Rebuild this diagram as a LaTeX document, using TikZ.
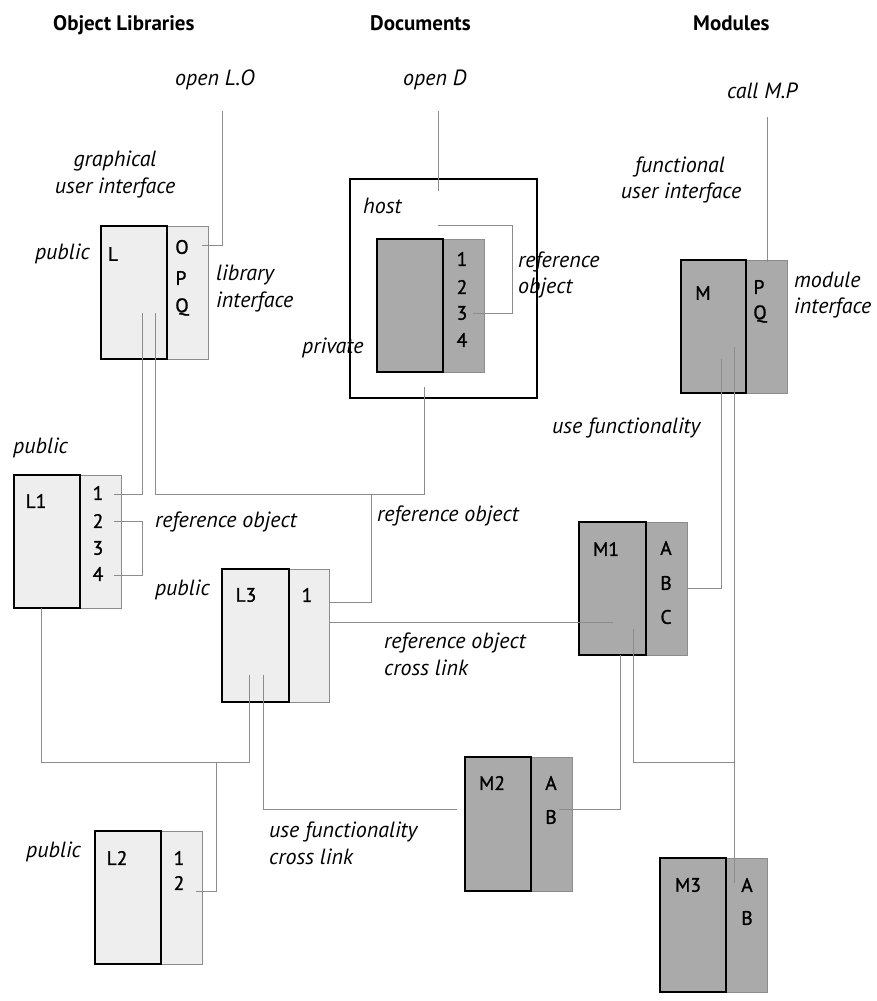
\documentclass[tikz,border=0pt]{standalone}
\usepackage{fontspec}
\setmainfont{PT Sans}
\newfontfamily\portfam{PT Sans}[FakeBold=1.2]
\definecolor{lfill}{HTML}{EEEEEE}
\definecolor{dfill}{HTML}{AAAAAA}
\definecolor{lgray}{HTML}{8C8C8C}
\newcommand\labfont{\fontsize{22}{26}\selectfont\itshape}
\newcommand\portfont{\portfam\fontsize{19.5}{23}\selectfont}
\newcommand\titlefont{\fontsize{21}{25}\selectfont\bfseries}
\begin{document}
\begin{tikzpicture}[x=1pt,y=-1pt,
  box/.style={inner sep=0pt, outer sep=0pt, anchor=north west},
  lpart/.style={box, draw=black, line width=1.4pt},
  rpart/.style={box, draw=lgray, line width=1pt},
  conn/.style={draw=lgray, line width=0.9pt},
  lab/.style={font=\labfont, anchor=base west, inner sep=0pt},
  labc/.style={font=\labfont, anchor=base, inner sep=0pt},
  labr/.style={font=\labfont, anchor=base east, inner sep=0pt},
  port/.style={font=\portfont, inner sep=0pt},
  ttl/.style={font=\titlefont, anchor=base west, inner sep=0pt}]
\useasboundingbox (0,0) rectangle (877,1001);

% titles
\node[ttl] (t1) at (53,30) {Object Libraries};
\node[ttl] (t2) at (370,30) {Documents};
\node[ttl] (t3) at (693,30) {Modules};

% ---------- Library L ----------
\node[rpart, fill=lfill, minimum width=41, minimum height=133] (Lr) at (167,226) {};
\node[lpart, fill=lfill, minimum width=66, minimum height=133] (Ll) at (101,226) {};
\node[port] (Lname) at (113,254) {L};
\node[port] (LO) at (182,247) {O};
\node[port] (LP) at (181,278) {P};
\node[port] (LQ) at (182,307) {Q};

% ---------- Library L1 ----------
\node[rpart, fill=lfill, minimum width=41, minimum height=133] (L1r) at (80,475) {};
\node[lpart, fill=lfill, minimum width=66, minimum height=133] (L1l) at (14,475) {};
\node[port] (L1name) at (36,501) {L1};
\node[port] (L1a) at (98,493) {1};
\node[port] (L1b) at (98,521) {2};
\node[port] (L1c) at (98,548) {3};
\node[port] (L1d) at (98,574) {4};

% ---------- Library L3 ----------
\node[rpart, fill=lfill, minimum width=40, minimum height=133] (L3r) at (289,569) {};
\node[lpart, fill=lfill, minimum width=67, minimum height=133] (L3l) at (222,569) {};
\node[port] (L3name) at (246,595) {L3};
\node[port] (L3a) at (307,595) {1};

% ---------- Library L2 ----------
\node[rpart, fill=lfill, minimum width=41, minimum height=133] (L2r) at (161,831) {};
\node[lpart, fill=lfill, minimum width=66, minimum height=133] (L2l) at (95,831) {};
\node[port] (L2name) at (117,858) {L2};
\node[port] (L2a) at (179,858) {1};
\node[port] (L2b) at (179,883) {2};

% ---------- Document ----------
\node[box, draw=black, line width=2pt, minimum width=187, minimum height=219] (Doc) at (350,179) {};
\node[rpart, fill=dfill, minimum width=41, minimum height=133] (Dr) at (443,239) {};
\node[lpart, fill=dfill, minimum width=66, minimum height=133] (Dl) at (377,239) {};
\node[port] (Da) at (462,259) {1};
\node[port] (Db) at (462,287) {2};
\node[port] (Dc) at (462,313) {3};
\node[port] (Dd) at (462,340) {4};

% ---------- Module M ----------
\node[rpart, fill=dfill, minimum width=41, minimum height=133] (Mr) at (746,260) {};
\node[lpart, fill=dfill, minimum width=65, minimum height=133] (Ml) at (681,260) {};
\node[port] (Mname) at (703,293) {M};
\node[port] (MP) at (759,287) {P};
\node[port] (MQ) at (760,314) {Q};

% ---------- Module M1 ----------
\node[rpart, fill=dfill, minimum width=41, minimum height=133] (M1r) at (646,522) {};
\node[lpart, fill=dfill, minimum width=67, minimum height=133] (M1l) at (579,522) {};
\node[port] (M1name) at (606,549) {M1};
\node[port] (M1A) at (666,548) {A};
\node[port] (M1B) at (666,583) {B};
\node[port] (M1C) at (666,617) {C};

% ---------- Module M2 ----------
\node[rpart, fill=dfill, minimum width=41, minimum height=134] (M2r) at (531,757) {};
\node[lpart, fill=dfill, minimum width=66, minimum height=134] (M2l) at (465,757) {};
\node[port] (M2name) at (492,783) {M2};
\node[port] (M2A) at (551,783) {A};
\node[port] (M2B) at (551,817) {B};

% ---------- Module M3 ----------
\node[rpart, fill=dfill, minimum width=41, minimum height=134] (M3r) at (726,858) {};
\node[lpart, fill=dfill, minimum width=66, minimum height=134] (M3l) at (660,858) {};
\node[port] (M3name) at (688,885) {M3};
\node[port] (M3A) at (747,885) {A};
\node[port] (M3B) at (747,918) {B};

% ---------- connector end points ----------
\coordinate (cLO) at (222,111);
\coordinate (cD) at (438,111);
\coordinate (cMP) at (767,117);
\coordinate (pO) at (202,245);
\coordinate (pDin) at (438,191);
\coordinate (pMP) at (767,262);
\coordinate (pDref) at (438,225);
\coordinate (pD3) at (473,313);
\coordinate (pLa) at (142,313);
\coordinate (pLb) at (155,313);
\coordinate (pL1a) at (114,494);
\coordinate (pL1b) at (114,521);
\coordinate (pL1d) at (114,575);
\coordinate (pDbot) at (424,387);
\coordinate (jDoc) at (371,494);
\coordinate (pL3a) at (329,602);
\coordinate (pL3x) at (329,622);
\coordinate (pM1x) at (613,622);
\coordinate (pM1B) at (687,588);
\coordinate (pMa) at (721,359);
\coordinate (pMb) at (734,347);
\coordinate (pM3A) at (734,883);
\coordinate (pM1a) at (633,629);
\coordinate (jM3) at (734,762);
\coordinate (pM1b) at (620,655);
\coordinate (pM2B) at (559,809);
\coordinate (pL3b) at (263,675);
\coordinate (eM2) at (457,809);
\coordinate (pL3c) at (249,675);
\coordinate (pL1bot) at (41,608);
\coordinate (jL2) at (216,762);
\coordinate (pL2b) at (196,891);

% ---------- connectors ----------
\draw[conn] (cLO) |- (pO);
\draw[conn] (cD) -- (pDin);
\draw[conn] (cMP) -- (pMP);
\draw[conn] (pDref) -- (512,225) |- (pD3);
\draw[conn] (pLa) |- (pL1a);
\draw[conn] (pLb) |- (pDbot |- jDoc) -- (pDbot);
\draw[conn] (jDoc) |- (pL3a);
\draw[conn] (pL1b) -- (142,521) |- (pL1d);
\draw[conn] (pL3x) -- (pM1x);
\draw[conn] (pM1B) -| (pMa);
\draw[conn] (pMb) -- (pM3A);
\draw[conn] (pM1a) |- (jM3);
\draw[conn] (pM1b) |- (pM2B);
\draw[conn] (pL3b) |- (eM2);
\draw[conn] (pL3c) |- (pL1bot |- jL2) -- (pL1bot);
\draw[conn] (jL2) |- (pL2b);

% ---------- labels ----------
\node[lab] (lopenLO) at (175,85) {open L.O};
\node[lab] (lopenD) at (403,85) {open D};
\node[lab] (lcall) at (727,98) {call M.P};
\node[labc] (lgui1) at (115,166) {graphical};
\node[labc] (lgui2) at (115,193) {user interface};
\node[labr] (lpubL) at (90,259) {public};
\node[lab] (llib1) at (216,280) {library};
\node[lab] (llib2) at (216,307) {interface};
\node[lab] (lhost) at (363,213) {host};
\node[lab] (lpriv) at (302,353) {private};
\node[lab] (ldref1) at (518,267) {reference};
\node[lab] (ldref2) at (518,293) {object};
\node[labc] (lfui1) at (680,172) {functional};
\node[labc] (lfui2) at (681,198) {user interface};
\node[lab] (lmod1) at (794,287) {module};
\node[lab] (lmod2) at (794,313) {interface};
\node[lab] (lpubL1) at (13,453) {public};
\node[lab] (lref1) at (155,527) {reference object};
\node[lab] (lref2) at (377,521) {reference object};
\node[labr] (lpubL3) at (210,595) {public};
\node[lab] (lcross1) at (384,648) {reference object};
\node[lab] (lcross2) at (384,675) {cross link};
\node[lab] (luse) at (552,433) {use functionality};
\node[lab] (lusec1) at (269,837) {use functionality};
\node[lab] (lusec2) at (269,864) {cross link};
\node[lab] (lpubL2) at (26,857) {public};
\end{tikzpicture}
\end{document}
